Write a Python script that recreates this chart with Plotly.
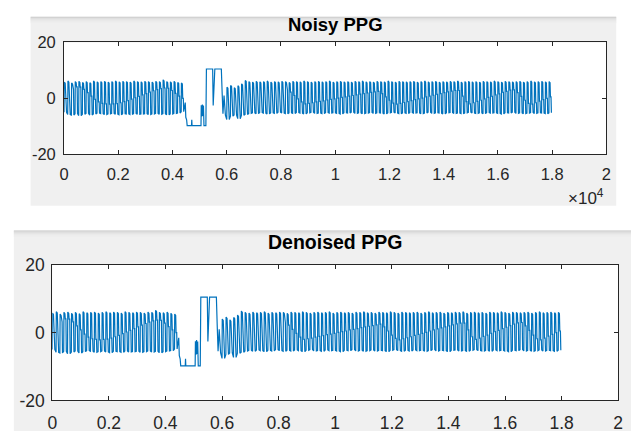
import numpy as np
import plotly.graph_objects as go

# ---------------- data ----------------
beat_len = 135          # samples per beat
pre_start = 0           # first beat before the motion artefact
post_start = 6000       # first beat after the motion artefact

pre_high = [5.8, 6.2, 5.5, 6.0, 6.1, 5.7, 6.0, 5.6, 6.2, 5.9, 6.0, 6.1, 5.8, 6.0, 6.2, 5.9, 6.1,
            6.0, 5.8, 6.2, 6.0, 5.9, 6.1, 6.0, 5.8, 6.1, 6.0, 6.6, 6.0, 5.9, 6.1, 5.7, 5.5]
pre_low = [-5.0, -5.8, -6.0, -5.5, -6.2, -5.7, -5.4, -6.0, -5.6, -5.3, -5.5, -5.8, -5.6, -5.4, -5.7, -5.9, -5.5,
           -5.6, -5.8, -5.4, -5.7, -5.6, -5.5, -5.8, -5.6, -5.4, -5.7, -5.5, -5.9, -5.6, -5.4, -5.3, -4.8]
pre_wander = [0.5, 2.0, 3.2, 4.1, 4.0, 3.2, 2.0, 0.8, -0.4, -1.3, -1.8, -2.0, -2.1, -2.0, -1.9, -1.6, -1.2,
              -0.8, -0.3, 0.2, 0.7, 1.2, 1.7, 2.2, 2.7, 3.1, 3.5, 3.7, 3.6, 2.8, 1.8, 0.8, 0.0]

post_high = [4.0, 4.6, 3.8, 4.5, 5.2, 6.4, 6.0, 5.8, 6.1, 5.9, 6.0, 6.2, 5.8, 6.0, 5.9, 6.1, 6.0, 5.7,
             6.1, 6.0, 5.9, 6.2, 6.0, 5.8, 6.0, 6.1, 5.9, 6.0, 6.2, 5.8, 6.0, 6.1, 5.9, 6.0, 5.8, 6.1,
             6.0, 6.2, 5.9, 6.0, 5.8, 6.1, 6.0, 5.9, 6.2, 6.0, 5.8, 6.1, 6.0, 5.9, 6.0, 6.1, 5.8, 6.0,
             6.2, 5.9, 6.0, 6.1, 5.8, 6.0, 5.9, 6.1, 6.0, 6.2, 5.8, 6.0, 6.1, 5.9, 6.0, 5.8, 6.1, 6.0,
             5.9, 6.2, 6.0, 5.8, 6.1, 6.0, 5.9, 6.0, 6.1, 5.8, 6.0, 6.2, 5.9, 6.0, 6.1, 5.9, 6.0]
post_low = [-7.6, -6.4, -6.0, -7.3, -6.1, -5.8, -5.4, -5.2, -5.5, -5.1, -5.3, -5.6, -5.2, -5.4, -5.0, -5.3,
            -5.5, -5.2, -5.4, -5.1, -5.3, -5.6, -5.2, -5.0, -5.4, -5.3, -5.5, -5.1, -5.3, -5.2, -5.4, -5.6,
            -5.2, -5.3, -5.0, -5.4, -5.2, -5.5, -5.3, -5.1, -5.4, -5.2, -5.3, -5.6, -5.2, -5.0, -5.3, -5.5,
            -5.2, -5.4, -5.1, -5.3, -5.2, -5.5, -5.3, -5.0, -5.4, -5.2, -5.3, -5.6, -5.2, -5.1, -5.4, -5.3,
            -5.5, -5.2, -5.0, -5.3, -5.4, -5.2, -5.5, -5.1, -5.3, -5.2, -5.4, -5.6, -5.2, -5.3, -5.0, -5.4,
            -5.2, -5.5, -5.3, -5.1, -5.4, -5.2, -5.3, -5.5, -5.2]
post_wander = [-2.0, -1.7, -1.4, -1.1, -0.8, -0.5, -0.2, 0.1, 0.4, 0.7, 1.0, 1.3, 1.6, 1.9, 2.2, 2.6, 3.0,
               2.2, 1.0, -0.2, -1.3, -2.0,
               -1.8, -1.6, -1.3, -1.1, -0.9, -0.6, -0.4, -0.2, 0.1, 0.3, 0.5, 0.8, 1.0, 1.2, 1.5, 1.7, 1.9, 2.1, 2.3, 2.5,
               1.7, 0.5, -0.7, -1.7, -2.1,
               -1.8, -1.5, -1.2, -0.8, -0.5, -0.2, 0.1, 0.5, 0.8, 1.1, 1.4, 1.7, 2.0, 2.3, 2.6, 2.8, 2.8,
               0.8, -1.2, -2.0,
               -1.6, -1.1, -0.7, -0.2, 0.3, 0.7, 1.2, 1.6, 2.1, 2.5, 2.9, 3.0,
               2.0, 0.7, -0.7, -1.8, -2.1,
               -1.6, -1.0, -0.5, 0.0, 0.5]

# motion artefact (sample index, amplitude)
art_x = [4470, 4490, 4520, 4540, 4700, 4710, 4720, 5050, 5060, 5080, 5100, 5120, 5140, 5160, 5230,
         5250, 5480, 5500, 5560, 5800, 5830, 5860, 5900, 5950]
art_y = [-1.5, -6.8, -7.7, -9.8, -9.8, -7.7, -9.8, -9.8, -2.5, -6.5, -2.2, -6.3, -2.6, -9.8, -9.8,
         10.5, 10.5, -2.6, 10.5, 10.5, 2.0, -5.5, 1.0, -6.0]

x_tick_vals = [0, 2000, 4000, 6000, 8000, 10000, 12000, 14000, 16000, 18000, 20000]
x_tick_text = ["0", "0.2", "0.4", "0.6", "0.8", "1", "1.2", "1.4", "1.6", "1.8", "2"]
y_tick_vals = [-20, 0, 20]
y_tick_text = ["-20", "0", "20"]

# ---------------- build the waveform from the per-beat values ----------------
# per beat: onset(low) -> systolic peak -> dicrotic level (wander) -> back to low
shape_off = [0, 8, 42, 56, 78, 92]


def beats(start, highs, lows, wander):
    xs, ys = [], []
    for i, (h, l, w) in enumerate(zip(highs, lows, wander)):
        t = start + i * beat_len
        xs += [t + o for o in shape_off]
        ys += [l, h, h - 0.4, w, w, l]
    return xs, ys


x1, y1 = beats(pre_start, pre_high, pre_low, pre_wander)
x2, y2 = beats(post_start, post_high, post_low, post_wander)
sig_x = x1 + art_x + x2
sig_y = y1 + art_y + y2
den_x = list(sig_x)
den_y = list(sig_y)

# ---------------- figure ----------------
W, H = 636, 441
LINE = "#0072BD"
AX = "#262626"
FONT = "Liberation Sans, Arial, Helvetica, sans-serif"

fig = go.Figure()
fig.add_trace(go.Scatter(x=sig_x, y=sig_y, mode="lines", line=dict(color=LINE, width=1.2),
                         xaxis="x", yaxis="y", showlegend=False))
fig.add_trace(go.Scatter(x=den_x, y=den_y, mode="lines", line=dict(color=LINE, width=1.2),
                         xaxis="x2", yaxis="y2", showlegend=False))


def px(x):
    return x / W


def py(y):
    return 1 - y / H


top_box = dict(l=60, r=611, t=34, b=151)
bot_box = dict(l=48, r=623, t=267, b=409)


def axis_common(fs):
    return dict(showgrid=False, zeroline=False, showline=True, linecolor=AX, linewidth=1,
                mirror="ticks", ticks="inside", ticklen=4, tickcolor=AX, tickwidth=1,
                tickfont=dict(family=FONT, size=fs, color=AX))


fig.update_layout(
    width=W, height=H, margin=dict(l=0, r=0, t=0, b=0),
    paper_bgcolor="white", plot_bgcolor="white",
    xaxis=dict(domain=[px(top_box["l"]), px(top_box["r"])], range=[0, 20000],
               tickvals=x_tick_vals, ticktext=x_tick_text, anchor="y",
               ticklabelstandoff=5, **axis_common(16.5)),
    yaxis=dict(domain=[py(top_box["b"]), py(top_box["t"])], range=[-20, 20],
               tickvals=y_tick_vals, ticktext=y_tick_text, anchor="x",
               ticklabelstandoff=4, **axis_common(16.5)),
    xaxis2=dict(domain=[px(bot_box["l"]), px(bot_box["r"])], range=[0, 20000],
                tickvals=x_tick_vals, ticktext=x_tick_text, anchor="y2",
                ticklabelstandoff=7, **axis_common(17.5)),
    yaxis2=dict(domain=[py(bot_box["b"]), py(bot_box["t"])], range=[-20, 20],
                tickvals=y_tick_vals, ticktext=y_tick_text, anchor="x2",
                ticklabelstandoff=3, **axis_common(17.5)),
)

shapes = []


def rect(x0, y0, x1_, y1_, color):
    shapes.append(dict(type="rect", xref="paper", yref="paper", layer="below",
                       x0=px(x0), x1=px(x1_), y0=py(y1_), y1=py(y0),
                       fillcolor=color, line=dict(width=0)))


# grey figure panels with a soft top shadow
rect(26, 7, 621, 205, "#f0f0f0")
rect(9, 231, 636, 441, "#f0f0f0")
shade = ["#c9c9c9", "#d3d3d3", "#dcdcdc", "#e3e3e3", "#e8e8e8", "#ececec", "#eeeeee"]
for k, c in enumerate(shade):
    rect(26, 7 + k, 621, 8 + k, c)
    rect(9, 231 + k, 636, 232 + k, c)
# white plotting areas
rect(top_box["l"], top_box["t"], top_box["r"], top_box["b"], "white")
rect(bot_box["l"], bot_box["t"], bot_box["r"], bot_box["b"], "white")
fig.update_layout(shapes=shapes)

fig.add_annotation(x=px(335.5), y=py(15), xref="paper", yref="paper", text="<b>Noisy PPG</b>",
                   showarrow=False, xanchor="center", yanchor="middle",
                   font=dict(family=FONT, size=18.5, color="black"))
fig.add_annotation(x=px(335.5), y=py(243), xref="paper", yref="paper", text="<b>Denoised PPG</b>",
                   showarrow=False, xanchor="center", yanchor="middle",
                   font=dict(family=FONT, size=19.5, color="black"))
fig.add_annotation(x=px(611), y=py(196), xref="paper", yref="paper", text="×10<sup>4</sup>",
                   showarrow=False, xanchor="right", yanchor="middle",
                   font=dict(family=FONT, size=17, color=AX))

fig.write_html("out.html")
